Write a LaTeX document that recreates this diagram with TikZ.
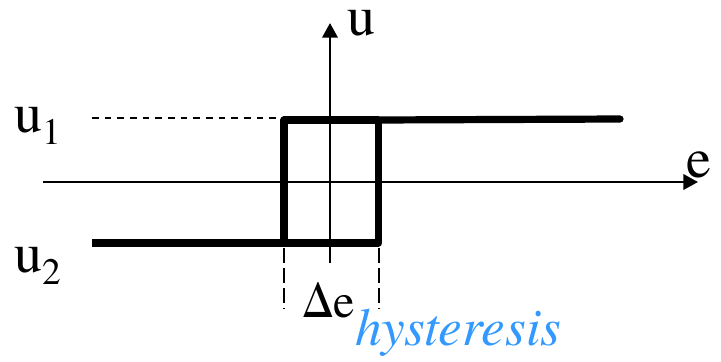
\documentclass[tikz,border=0pt]{standalone}
\usepackage{fontspec}
\setmainfont{texgyretermes}[Extension=.otf,UprightFont=*-regular,ItalicFont=*-italic]
\usetikzlibrary{arrows.meta}
\definecolor{hystblue}{RGB}{51,153,255}
\newcommand{\usub}[1]{u\raisebox{-9.5pt}{\fontsize{28}{28}\selectfont #1}}
\tikzset{
  axis/.style={line width=1.9pt,-{Triangle[length=11pt,width=11.5pt]}},
  loopline/.style={line width=5.4pt,line join=round},
  guide/.style={line width=1.2pt,dash pattern=on 5pt off 4.5pt},
  drop/.style={line width=1.5pt,dash pattern=on 11pt off 4pt},
  lbl/.style={inner sep=0pt,anchor=base west,font=\fontsize{42}{50}\selectfont},
}
\begin{document}
\begin{tikzpicture}[x=0.75pt,y=-0.75pt]
\useasboundingbox (0,0) rectangle (721,361);
% axes
\draw[axis] (43,182) -- (698,182);
\draw[axis] (330,263) -- (330,23);
\node[lbl] (elabel) at (686,177) {e};
\node[lbl,text height=1ex] (ulabel) at (347,35) {u};
% levels
\draw[guide] (92,118) -- (284,118);
\node[lbl] (uone) at (14,132) {\usub{1}};
\node[lbl] (utwo) at (14,272) {\usub{2}};
% hysteresis loop
\draw[loopline] (92,243) -- (378.5,243) -- (378.5,120);
\draw[loopline] (284,243) -- (284,120) -- (378.5,120);
\draw[loopline,line cap=round] (378.5,120) -- (620,119);
% width of the loop
\draw[drop] (283.5,248) -- (283.5,309);
\draw[drop] (379,248) -- (379,309);
\node[lbl,font=\fontsize{36}{42}\selectfont] (delta) at (302,317) {Δe};
\node[lbl,font=\fontsize{40}{48}\selectfont\itshape,text=hystblue] (hyst) at (355,345) {hysteresis};
\end{tikzpicture}
\end{document}
